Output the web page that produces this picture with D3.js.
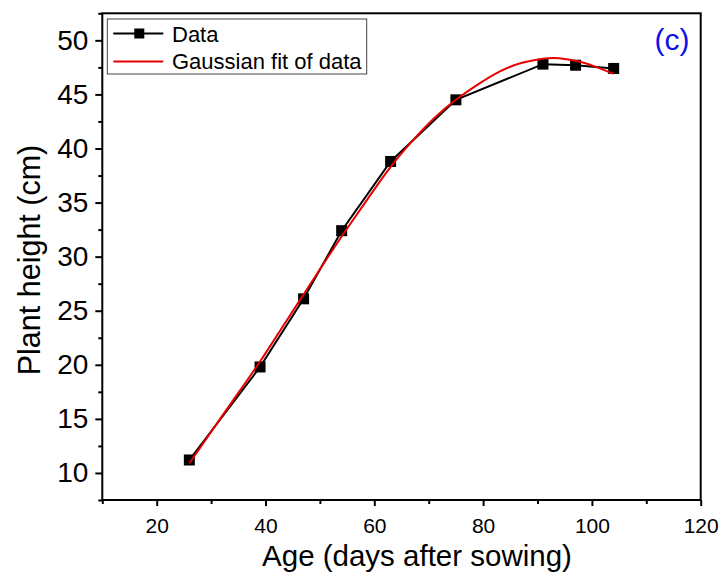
<!DOCTYPE html>
<html>
<head>
<meta charset="utf-8">
<script src="https://cdn.jsdelivr.net/npm/d3@7"></script>
<style>
  body { margin: 0; background: #fff; }
  text { font-family: "Liberation Sans", Arial, sans-serif; }
</style>
</head>
<body>
<script>
// measured plant height
var ageDays = [26, 39, 47, 54, 63, 75, 91, 97, 104];
var heightCm = [11.2, 19.8, 26.1, 32.4, 38.8, 44.5, 47.8, 47.7, 47.4];

// gaussian fit curve
var fitAge = [26, 30, 35, 39, 43, 47, 51, 55, 59, 63, 67, 71, 75, 79, 83, 87, 91, 94, 98, 101, 104];
var fitHeight = [10.9, 13.8, 17.4, 20.3, 23.4, 26.5, 29.6, 32.6, 35.5, 38.3, 40.7, 42.8, 44.5, 45.9, 47.1, 47.9, 48.3, 48.35, 48.0, 47.5, 46.9];

var xMajor = [20, 40, 60, 80, 100, 120];
var xMinor = [10, 30, 50, 70, 90, 110];
var yMajor = [10, 15, 20, 25, 30, 35, 40, 45, 50];
var yMinor = [7.5, 12.5, 17.5, 22.5, 27.5, 32.5, 37.5, 42.5, 47.5, 52.5];

var legendLabels = ["Data", "Gaussian fit of data"];

var svg = d3.select("body").append("svg")
    .attr("width", 721)
    .attr("height", 573);

// plot box (note: "top" is taken by window.top)
var pLeft = 102.3, pRight = 700.7, pTop = 13.3, pBottom = 500;

var x = d3.scaleLinear().domain([10, 120]).range([pLeft, pRight]);
var y = d3.scaleLinear().domain([7.5, 52.5]).range([pBottom, pTop]);

// x axis
var gx = svg.append("g").attr("transform", "translate(0," + pBottom + ")");
gx.call(d3.axisBottom(x).tickValues(xMajor).tickSize(6).tickPadding(12));
gx.append("g").call(d3.axisBottom(x).tickValues(xMinor).tickSize(4).tickFormat(""));
gx.selectAll(".domain").remove();
gx.selectAll("line").attr("stroke", "#000").attr("stroke-width", 2);
gx.selectAll("text").attr("font-size", 21).attr("fill", "#000");

// y axis
var gy = svg.append("g").attr("transform", "translate(" + pLeft + ",0)");
gy.call(d3.axisLeft(y).tickValues(yMajor).tickSize(7).tickPadding(7));
gy.append("g").call(d3.axisLeft(y).tickValues(yMinor).tickSize(4).tickFormat(""));
gy.selectAll(".domain").remove();
gy.selectAll("line").attr("stroke", "#000").attr("stroke-width", 2);
gy.selectAll("text").attr("font-size", 28).attr("fill", "#000");

// frame
svg.append("rect")
    .attr("x", pLeft).attr("y", pTop)
    .attr("width", pRight - pLeft).attr("height", pBottom - pTop)
    .attr("fill", "none")
    .attr("stroke", "#000")
    .attr("stroke-width", 2);

// data line + squares
var line = d3.line()
    .x(function(d, i) { return x(ageDays[i]); })
    .y(function(d) { return y(d); });

svg.append("path")
    .attr("d", line(heightCm))
    .attr("fill", "none")
    .attr("stroke", "#000")
    .attr("stroke-width", 2);

svg.selectAll(".pt")
    .data(heightCm)
    .enter()
    .append("rect")
    .attr("class", "pt")
    .attr("x", function(d, i) { return x(ageDays[i]) - 5.5; })
    .attr("y", function(d) { return y(d) - 5.5; })
    .attr("width", 11)
    .attr("height", 11)
    .attr("fill", "#000");

// fit curve
var fitLine = d3.line()
    .curve(d3.curveNatural)
    .x(function(d, i) { return x(fitAge[i]); })
    .y(function(d) { return y(d); });

svg.append("path")
    .attr("d", fitLine(fitHeight))
    .attr("fill", "none")
    .attr("stroke", "#e60000")
    .attr("stroke-width", 2);

// axis titles
svg.append("text")
    .attr("x", 417)
    .attr("y", 565.5)
    .attr("text-anchor", "middle")
    .attr("font-size", 29.5)
    .text("Age (days after sowing)");

svg.append("text")
    .attr("transform", "translate(40,260) rotate(-90)")
    .attr("text-anchor", "middle")
    .attr("font-size", 30.5)
    .text("Plant height (cm)");

// panel label
svg.append("text")
    .attr("x", 672)
    .attr("y", 50)
    .attr("text-anchor", "middle")
    .attr("font-size", 30)
    .attr("fill", "#1010e8")
    .text("(c)");

// legend
var lg = svg.append("g");
lg.append("rect")
    .attr("x", 107.3).attr("y", 19)
    .attr("width", 259.4).attr("height", 55)
    .attr("fill", "#fff")
    .attr("stroke", "#444")
    .attr("stroke-width", 1);

lg.append("line")
    .attr("x1", 113.3).attr("x2", 163.3)
    .attr("y1", 33.5).attr("y2", 33.5)
    .attr("stroke", "#000").attr("stroke-width", 2);
lg.append("rect")
    .attr("x", 134.3).attr("y", 28.5)
    .attr("width", 10).attr("height", 10)
    .attr("fill", "#000");
lg.append("line")
    .attr("x1", 113.3).attr("x2", 163.3)
    .attr("y1", 61.5).attr("y2", 61.5)
    .attr("stroke", "#e60000").attr("stroke-width", 2);

lg.selectAll(".lt")
    .data(legendLabels)
    .enter()
    .append("text")
    .attr("class", "lt")
    .attr("x", 172)
    .attr("y", function(d, i) { return 41.5 + i * 27.8; })
    .attr("font-size", 22)
    .text(function(d) { return d; });
</script>
</body>
</html>
